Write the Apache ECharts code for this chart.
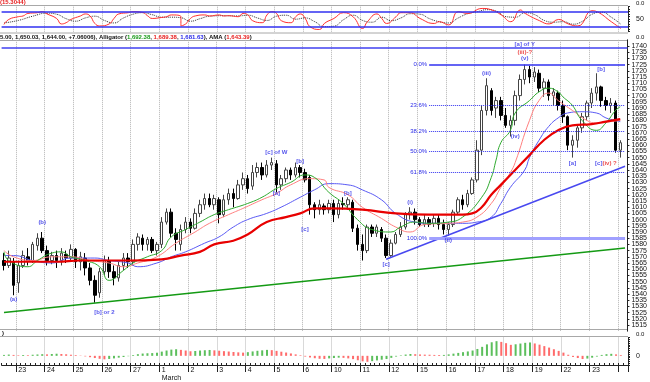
<!DOCTYPE html>
<html><head><meta charset="utf-8">
<script src="https://cdn.jsdelivr.net/npm/echarts/dist/echarts.min.js"></script>
<style>html,body{margin:0;padding:0;background:#fff}#c{width:650px;height:382px}</style>
</head><body><div id="c"></div>
<script>
// ---------- data ----------
const dayLabels = ["23","24","25","26","27","1","2","3","4","5","6","10","11","12","15","16","17","18","19","22","23"];
const barCount = 131;
// [open, close, low, high]
const candles = [
[1567,1563,1559,1573],[1563,1569,1561,1575],[1566,1547,1539,1569],[1549,1563,1541,1567],[1563,1571,1561,1575],
[1570,1567,1563,1577],[1567,1580,1565,1582],[1579,1585,1575,1589],[1585,1575,1573,1590],[1575,1567,1563,1579],
[1567,1571,1564,1574],[1571,1567,1561,1575],[1567,1573,1563,1577],[1572,1569,1565,1575],[1569,1576,1566,1580],
[1576,1566,1561,1577],[1566,1570,1559,1574],[1569,1561,1555,1573],[1561,1551,1547,1565],[1551,1539,1533,1555],
[1541,1558,1537,1561],[1558,1567,1555,1571],[1567,1558,1553,1570],[1558,1553,1547,1563],[1553,1563,1550,1566],
[1563,1569,1559,1573],[1569,1566,1561,1573],[1566,1580,1563,1584],[1580,1586,1575,1589],[1585,1580,1575,1588],
[1580,1584,1575,1586],[1584,1575,1573,1586],[1575,1580,1571,1582],[1580,1598,1577,1602],[1598,1606,1596,1609],
[1606,1589,1586,1609],[1589,1584,1575,1593],[1580,1592,1575,1596],[1592,1598,1589,1602],[1598,1593,1589,1601],
[1593,1605,1592,1609],[1605,1612,1602,1616],[1612,1617,1608,1621],[1617,1612,1610,1621],[1612,1617,1608,1620],
[1616,1604,1597,1618],[1604,1616,1602,1620],[1616,1621,1612,1625],[1621,1617,1610,1625],[1617,1628,1616,1632],
[1628,1633,1624,1638],[1633,1625,1621,1636],[1627,1638,1624,1644],[1638,1642,1634,1646],[1642,1636,1632,1646],
[1636,1644,1634,1648],[1644,1646,1640,1650],[1645,1628,1622,1648],[1628,1633,1624,1636],[1633,1640,1630,1642],
[1640,1636,1632,1642],[1636,1642,1634,1646],[1642,1638,1634,1644],[1638,1632,1630,1641],[1634,1612,1604,1636],
[1612,1608,1601,1614],[1608,1612,1604,1616],[1611,1608,1604,1613],[1608,1613,1605,1616],[1613,1604,1598,1616],
[1604,1613,1601,1616],[1613,1612,1608,1618],[1612,1616,1608,1618],[1614,1593,1590,1616],[1593,1580,1575,1596],
[1580,1575,1567,1588],[1575,1594,1573,1596],[1594,1589,1586,1596],[1589,1594,1586,1596],[1592,1585,1582,1594],
[1585,1571,1569,1588],[1571,1581,1570,1584],[1581,1588,1580,1590],[1588,1594,1586,1598],[1594,1604,1592,1606],
[1604,1606,1600,1610],[1606,1600,1596,1609],[1600,1596,1594,1602],[1596,1600,1594,1604],[1600,1596,1594,1602],
[1597,1601,1594,1604],[1601,1596,1592,1604],[1596,1592,1588,1600],[1592,1596,1587,1598],[1596,1606,1594,1608],
[1606,1616,1604,1618],[1616,1612,1608,1620],[1612,1621,1610,1624],[1621,1632,1620,1634],[1632,1656,1630,1664],
[1656,1688,1652,1692],[1688,1708,1684,1714],[1704,1688,1684,1706],[1690,1696,1682,1699],[1696,1684,1680,1699],
[1684,1676,1674,1690],[1676,1680,1667,1684],[1680,1700,1676,1704],[1700,1713,1696,1717],[1713,1721,1709,1725],
[1721,1715,1710,1724],[1715,1719,1711,1723],[1718,1706,1703,1721],[1706,1711,1699,1714],[1711,1700,1696,1713],
[1700,1703,1692,1706],[1702,1692,1688,1704],[1692,1683,1678,1696],[1683,1660,1656,1684],[1660,1664,1650,1668],
[1664,1674,1658,1676],[1674,1683,1670,1686],[1683,1694,1680,1696],[1694,1702,1690,1706],[1702,1707,1696,1718],
[1707,1696,1691,1708],[1696,1692,1688,1699],[1692,1694,1686,1698],[1694,1656,1654,1696],[1656,1662,1650,1664]
];
// Alligator lines + AMA, read as [bar, price]
const lips = [[0,1574],[1,1567],[5,1562],[7,1567],[10,1573],[12,1574],[14,1570],[17,1567],[20,1562],[22,1551],[25,1559],[27,1565],[30,1570],[33,1575],[35,1586],[38,1592],[41,1598],[44,1604],[47,1608],[51,1613],[54,1618],[57,1625],[60,1630],[63,1636],[65,1634],[68,1622],[71,1613],[74,1600],[77,1592],[81,1590],[83,1594],[86,1598],[89,1597],[93,1598],[96,1602],[100,1618],[102,1634],[103,1648],[104,1662],[106,1672],[107,1686],[110,1696],[112,1703],[114,1706],[116,1703],[117,1699],[119,1692],[121,1680],[124,1672],[126,1678],[128,1688],[129,1691]];
const teeth = [[0,1575],[2,1570],[6,1567],[10,1570],[14,1570],[18,1567],[22,1565],[25,1562],[28,1565],[32,1570],[36,1581],[40,1590],[43,1597],[47,1604],[50,1609],[54,1616],[57,1621],[60,1628],[64,1633],[67,1632],[68,1626],[72,1620],[75,1610],[79,1601],[82,1594],[85,1590],[88,1596],[93,1597],[96,1598],[99,1602],[102,1613],[104,1626],[106,1638],[107,1646],[110,1680],[112,1696],[114,1702],[116,1696],[119,1688],[122,1680],[124,1678],[127,1679],[129,1680]];
const jaw = [[0,1571],[2,1571],[6,1567],[10,1565],[14,1569],[19,1569],[22,1567],[26,1565],[28,1562],[32,1565],[35,1570],[38,1574],[42,1581],[45,1586],[48,1594],[51,1600],[55,1605],[58,1610],[62,1618],[65,1624],[68,1629],[72,1628],[75,1624],[79,1616],[82,1605],[86,1598],[89,1597],[93,1597],[96,1597],[99,1598],[102,1602],[104,1613],[106,1626],[109,1640],[110,1650],[112,1664],[114,1675],[116,1682],[118,1686],[121,1687],[124,1686],[126,1682],[128,1680],[129,1679]];
const ama = [[0,1566],[5,1566],[11,1566],[16,1567],[20,1567],[26,1567],[33,1568],[37,1571],[41,1574],[44,1580],[48,1583],[51,1588],[55,1598],[59,1602],[62,1605],[65,1609],[68,1609],[75,1608],[82,1605],[89,1604],[96,1604],[98,1605],[100,1610],[102,1620],[104,1628],[107,1640],[110,1652],[113,1664],[116,1672],[119,1676],[123,1677],[126,1679],[129,1681]];
// trend lines [bar, price]
const trendGreen = [[0,1525],[130,1577]];
const trendBlue = [[80,1568],[130,1643]];
const topLevel = 1738.5;
// Fibonacci retracement
const fibLevels = [["0.0%",1725],["23.6%",1692],["38.2%",1671.5],["50.0%",1655],["61.8%",1638.5],["100.0%",1585]];
const fibFrom = 89, fibTo = 130;
// wave labels [bar, price, text, colour]
const waveLabels = [
 [2,1536,"(a)","b"],[8,1598,"(b)","b"],[21,1525,"[b] or 2","b"],[57,1654,"[c] of W","b"],[62,1647,"[b]","b"],
 [57,1621,"[a]","b"],[63,1592,"[c]","b"],[72,1621,"[b]","b"],[80,1564,"[c]","b"],[85,1614,"(i)","b"],
 [93,1583,"(ii)","b"],[101,1718,"(iii)","b"],[107,1667,"(iv)","b"],[109,1730,"(v)","b"],[109,1741,"[a] of Y","b"],
 [109,1735,"(iii)-?","r"],[119,1645,"[a]","b"],[125,1721,"[b]","b"],[126,1645,"[c]|(iv) ?","m"]
];
// stochastic [bar, value]
const stochK = [[0,29],[1,49],[3,60],[4,63],[5,73],[7,76],[8,80],[9,71],[11,53],[12,31],[13,36],[14,49],[16,63],[17,71],[18,63],[19,33],[20,23],[22,31],[23,53],[24,71],[26,76],[27,80],[29,77],[30,64],[31,53],[33,57],[34,60],[35,67],[37,60],[37,23],[38,31],[39,53],[40,63],[42,67],[43,63],[45,67],[46,63],[47,64],[49,60],[50,73],[51,67],[52,44],[54,36],[55,67],[56,80],[57,73],[58,44],[60,36],[61,60],[62,71],[63,53],[64,20],[66,9],[67,33],[69,53],[71,76],[73,60],[75,13],[76,40],[78,71],[79,53],[80,33],[82,60],[83,76],[85,76],[87,53],[90,33],[91,40],[93,27],[95,80],[97,73],[100,93],[102,87],[104,67],[106,40],[108,87],[109,73],[112,44],[114,31],[116,49],[118,31],[120,23],[123,84],[124,80],[127,40],[129,13]];
const stochD = [[0,35],[3,45],[6,62],[9,74],[11,70],[13,52],[15,42],[17,55],[19,62],[21,45],[23,35],[25,55],[27,70],[29,76],[31,68],[33,58],[35,58],[37,56],[39,42],[41,52],[43,62],[46,64],[49,63],[51,66],[53,55],[55,45],[57,62],[59,66],[61,50],[63,55],[65,40],[67,20],[69,22],[71,48],[73,66],[75,45],[77,38],[79,58],[81,44],[83,55],[85,72],[87,70],[89,52],[91,40],[93,35],[95,55],[97,72],[99,80],[101,88],[103,82],[105,60],[107,58],[109,76],[111,68],[113,45],[115,38],[117,40],[119,30],[121,42],[123,70],[125,78],[127,58],[129,30]];
const stochBands = [80, 20];
// Awesome oscillator histogram
const ao = [1.0,1.4,1.0,0.6,0.9,0.7,1.2,1.5,1.8,1.6,2.0,2.3,2.0,1.7,1.2,0.8,0.3,-0.6,-1.5,-2.4,-3.2,-3.8,-3.4,-2.8,-2.0,-1.3,-0.4,0.8,1.8,2.5,2.8,3.0,3.4,4.6,5.8,6.8,7.2,6.5,5.8,5.0,5.3,5.8,6.1,6.4,6.0,5.6,5.1,4.7,4.2,3.8,3.5,4.0,4.8,5.5,6.0,6.5,6.2,5.4,4.5,3.6,2.6,1.6,0.6,-0.8,-1.8,-2.6,-3.2,-3.4,-2.8,-2.4,-2.0,-2.2,-2.8,-3.6,-4.8,-6.0,-6.5,-5.8,-5.0,-4.2,-3.5,-2.2,-0.8,0.5,1.4,2.0,1.8,1.5,1.3,1.2,1.0,0.9,1.0,1.6,2.4,3.2,4.0,4.8,5.8,7.5,9.8,12.5,14.8,16.0,15.2,13.8,12.0,12.6,13.4,14.2,14.6,13.5,12.2,10.6,9.0,7.2,5.4,3.5,1.2,-1.2,-2.4,-3.5,-3.0,-2.0,-0.8,1.0,1.8,2.2,1.6,0.8];
const headerText = ["5.00, 1,650.03, 1,644.00, +7.06006), Alligator (","1,692.38","1,689.38","1,681.63","), AMA (","1,643.39",")"];
const stochTitle = "(15.3044)";

// ---------- chart ----------
const categories = Array.from({length: barCount}, (_, i) => String(i));
const firstDay = 3, perDay = 6;
const isDay = i => i >= firstDay && (i - firstDay) % perDay === 0;
const NARROW = "'Liberation Sans Narrow','Liberation Sans',Arial,sans-serif";
const SANS = "'Liberation Sans',Arial,sans-serif";
const BLUE = '#2a2ae8', RED = '#e82020';
const gridL = 1.6, gridR = 22;

function xAx(gi) {
  return {type:'category', gridIndex:gi, data:categories, boundaryGap:true,
    axisLine:{show:false}, axisTick:{show:false}, axisLabel:{show:false},
    splitLine:{show:true, interval:(i)=>isDay(i), lineStyle:{color:'#b4b4b4', type:'dotted', width:1}}};
}
const xAxes = [xAx(0), xAx(1), xAx(2),
  {type:'category', gridIndex:2, data:categories, boundaryGap:true, position:'bottom',
   axisLine:{show:true, lineStyle:{color:'#222', width:1}},
   axisTick:{show:true, interval:(i)=>isDay(i), length:7, lineStyle:{color:'#222'}},
   axisLabel:{show:true, interval:(i)=>isDay(i), align:'left', margin:1, fontSize:7, fontFamily:SANS, color:'#111', lineHeight:8,
     formatter:(v, i)=>{ const k=(i-firstDay)/perDay; const t=dayLabels[k]; if(t===undefined) return ''; return t==='1' ? '1\nMarch' : t; }},
   splitLine:{show:false}},
  {type:'category', gridIndex:2, data:categories, boundaryGap:true, position:'bottom',
   axisLine:{show:false}, axisLabel:{show:false}, splitLine:{show:false},
   axisTick:{show:true, interval:0, inside:true, length:2, lineStyle:{color:'#222'}}}
];

const yAxes = [
  {type:'value', gridIndex:0, position:'right', min:0, max:100, interval:10,
   axisLine:{show:true, lineStyle:{color:'#222'}}, axisTick:{show:true, length:2, lineStyle:{color:'#222'}},
   axisLabel:{fontSize:7, fontFamily:SANS, color:'#111', margin:8, formatter:v=>v===50?'50':''}, splitLine:{show:false}},
  {type:'value', gridIndex:1, position:'right', min:1510, max:1745, interval:5,
   axisLine:{show:true, lineStyle:{color:'#222'}}, axisTick:{show:true, length:2, lineStyle:{color:'#222'}},
   axisLabel:{fontSize:7, fontFamily:SANS, color:'#111', margin:4, showMinLabel:false, showMaxLabel:false, formatter:v=>String(v)}, splitLine:{show:false}},
  {type:'value', gridIndex:2, position:'right', min:-10, max:20, interval:2,
   axisLine:{show:true, lineStyle:{color:'#222'}}, axisTick:{show:true, length:2, lineStyle:{color:'#222'}},
   axisLabel:{fontSize:7, fontFamily:SANS, color:'#111', margin:8, formatter:v=>v===0?'0':''}, splitLine:{show:false}}
];

function lineS(data, color, width, extra) {
  return Object.assign({type:'line', xAxisIndex:1, yAxisIndex:1, data, smooth:true, symbol:'none',
    lineStyle:{color, width}, silent:true, z:3}, extra||{});
}

const fibMarks = fibLevels.map(([t, v]) => {
  const solid = t === '0.0%', full = t === '100.0%';
  return [{coord:[fibFrom, v], label:{show:true, formatter:t, position:'start', distance:2, color:BLUE, fontSize:6, fontFamily:NARROW},
           lineStyle:{color: full ? '#a0a0ff' : '#3030f0', width: full ? 3 : (solid ? 1.5 : 1), type: (solid||full) ? 'solid' : 'dotted'}},
          {coord:[fibTo, v]}];
});

const waveData = waveLabels.map(([i, p, t, c]) => {
  let fmt;
  if (c === 'm') { const [a, b] = t.split('|'); fmt = '{b|' + a + '}{r|' + b + '}'; }
  else fmt = '{' + (c === 'r' ? 'r' : 'b') + '|' + t + '}';
  return {value:[i, p], label:{formatter:fmt}};
});

const series = [
  {type:'line', xAxisIndex:0, yAxisIndex:0, data:stochD, symbol:'none', smooth:true, lineStyle:{color:'#333', width:1, type:'dotted'}, silent:true,
   markLine:{silent:true, symbol:['none','none'], label:{show:false}, lineStyle:{color:'#3030f0', width:1.5, type:'solid'},
     data: stochBands.map(v=>({yAxis:v}))}},
  {type:'line', xAxisIndex:0, yAxisIndex:0, data:stochK, symbol:'none', smooth:true, lineStyle:{color:'#ff3030', width:1}, silent:true},
  {type:'candlestick', xAxisIndex:1, yAxisIndex:1, data:candles, barWidth:3, silent:true, z:2,
   itemStyle:{color:'#ffffff', color0:'#000000', borderColor:'#444', borderColor0:'#000', borderWidth:1}},
  lineS(jaw, '#5a5af5', 1),
  lineS(teeth, '#ff8080', 1),
  lineS(lips, '#2eaa2e', 1),
  lineS(ama, '#e80000', 2.2),
  lineS(trendGreen, '#149a14', 1.5, {smooth:false}),
  lineS(trendBlue, '#4848f0', 1.5, {smooth:false,
    markLine:{silent:true, symbol:['none','none'], data:[...fibMarks, {yAxis:topLevel, label:{show:false}, lineStyle:{color:'#4040f0', width:1.5, type:'solid'}}]}}),
  {type:'scatter', xAxisIndex:1, yAxisIndex:1, data:waveData, symbolSize:1, itemStyle:{color:'rgba(0,0,0,0)'}, silent:true, z:6,
   label:{show:true, position:'inside', fontFamily:NARROW, fontSize:6, fontWeight:'bold',
     rich:{b:{color:BLUE, fontSize:6, fontWeight:'bold', fontFamily:NARROW}, r:{color:RED, fontSize:6, fontWeight:'bold', fontFamily:NARROW}}}},
  {type:'bar', xAxisIndex:2, yAxisIndex:2, barWidth:2, silent:true,
   data: ao.map((v, i) => ({value:v, itemStyle:{color: (i===0 || v >= ao[i-1]) ? '#5cbf5c' : '#ff6b6b'}}))}
];

const sep = y => ({type:'line', shape:{x1:0, y1:y, x2:628, y2:y}, style:{stroke:'#a8a8a8', lineWidth:1}, silent:true});
const graphic = [
  sep(5.5), sep(33), sep(40.5), sep(329.5), sep(336.5),
  {type:'text', left:0, top:-1, style:{text:stochTitle, fill:RED, font:"bold 6px " + NARROW}},
  {type:'text', x:0, y:34, style:{
    text:'{k|'+headerText[0]+'}{g|'+headerText[1]+'}{k|, }{r|'+headerText[2]+'}{k|, }{b|'+headerText[3]+'}{k|'+headerText[4]+'}{r|'+headerText[5]+'}{k|'+headerText[6]+'}',
    font:"bold 6px " + NARROW,
    rich:{k:{fill:'#111', font:"bold 6px " + NARROW}, g:{fill:'#1c9a1c', font:"bold 6px " + NARROW},
          r:{fill:RED, font:"bold 6px " + NARROW}, b:{fill:BLUE, font:"bold 6px " + NARROW}}}},
  {type:'text', x:2, y:330.5, style:{text:')', fill:'#111', font:"bold 6px " + SANS}},
  {type:'text', x:636, y:0, style:{text:'0.0', fill:'#111', font:"6px " + SANS}},
  {type:'text', x:636, y:34, style:{text:'0.0', fill:'#111', font:"6px " + SANS}},
  {type:'text', x:636, y:331, style:{text:'0.0', fill:'#111', font:"6px " + SANS}}
];

const chart = echarts.init(document.getElementById('c'), null, {renderer:'canvas'});
chart.setOption({
  animation:false, backgroundColor:'#ffffff',
  textStyle:{fontFamily:SANS},
  grid:[
    {left:gridL, right:gridR, top:6.7, height:25},
    {left:gridL, right:gridR, top:39.8, height:291.4},
    {left:gridL, right:gridR, top:337.5, height:30}
  ],
  xAxis:xAxes, yAxis:yAxes, series, graphic
});
</script></body></html>
